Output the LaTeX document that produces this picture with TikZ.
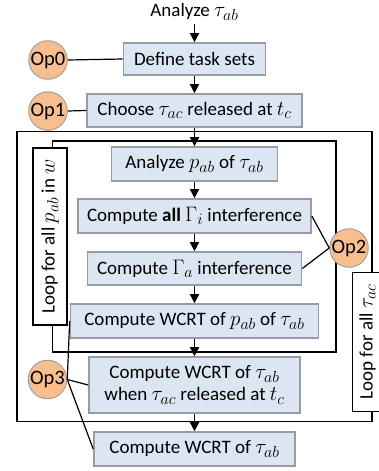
\RequirePackage{fix-cm}
\documentclass[tikz,border=0pt]{standalone}
\usepackage{amsmath,amssymb}
\usepackage{xcolor}
\usepackage{fontspec}
\setmainfont{Carlito}
\usetikzlibrary{arrows.meta}
\DeclareMathSizes{19}{21}{16}{12}

\definecolor{boxfill}{RGB}{220,230,242}
\definecolor{boxline}{RGB}{150,155,165}
\definecolor{opfill}{RGB}{248,190,142}
\definecolor{opline}{RGB}{160,160,160}

\begin{document}
\begin{tikzpicture}[x=1pt,y=1pt,yscale=-1,xscale=1,
  font=\fontsize{19}{22}\selectfont,
  stepbox/.style={draw=boxline,fill=boxfill,line width=1.6pt,inner sep=0pt,align=center,minimum height=34},
  loopbox/.style={draw=black,line width=1.4pt,inner sep=0pt,minimum width=0,minimum height=0},
  looplabel/.style={draw=black,fill=white,line width=1.2pt,inner sep=0pt,rotate=90,minimum height=34},
  opnode/.style={circle,draw=opline,fill=opfill,line width=1pt,inner sep=0pt,minimum size=35,font=\fontsize{20.5}{22}\selectfont},
  flow/.style={line width=1.5pt,-{Triangle[width=9pt,length=9pt]}},
  opwire/.style={line width=1.2pt}]

\clip (0,0) rectangle (379,471);

% loops
\node [loopbox,minimum width=355,minimum height=290] (outer) at (194.5,276.5) {};
\node [loopbox,minimum width=283.5,minimum height=211] (inner) at (194.25,246.5) {};
\node [looplabel,minimum width=177] (loopw) at (50,236.5) {Loop for all $p_{ab}$ in $w$};
\node [looplabel,minimum width=139,minimum height=30] (looptc) at (367.5,342) {Loop for all $\tau_{ac}$};

% steps
\node [inner sep=3pt] (title) at (194.5,12) {Analyze $\tau_{ab}$};
\node [stepbox,minimum width=142,minimum height=32] (define) at (194.5,59) {Define task sets};
\node [stepbox,minimum width=215,minimum height=33] (choose) at (194.5,110.5) {Choose $\tau_{ac}$ released at $t_{c}$};
\node [stepbox,minimum width=166] (analyze) at (194.5,164) {Analyze $p_{ab}$ of $\tau_{ab}$};
\node [stepbox,minimum width=233] (all) at (194.5,216) {Compute \textbf{all} $\Gamma_{i}$ interference};
\node [stepbox,minimum width=214,minimum height=33] (gam) at (194.5,268.5) {Compute $\Gamma_{a}$ interference};
\node [stepbox,minimum width=248] (wcrtp) at (194.5,321) {Compute WCRT of $p_{ab}$ of $\tau_{ab}$};
\node [stepbox,minimum width=211,minimum height=56] (when) at (194.5,385) {Compute WCRT of $\tau_{ab}$\\when $\tau_{ac}$ released at $t_{c}$};
\node [stepbox,minimum width=201] (final) at (194.5,449) {Compute WCRT of $\tau_{ab}$};

\draw [flow] (title) -- (define);
\draw [flow] (define) -- (choose);
\draw [flow] (choose) -- (analyze);
\draw [flow] (analyze) -- (all);
\draw [flow] (all) -- (gam);
\draw [flow] (gam) -- (wcrtp);
\draw [flow] (wcrtp) -- (when);
\draw [flow] (when) -- (final);

% operations
\node [opnode] (op0) at (48,60) {Op0};
\node [opnode] (op1) at (48,111) {Op1};
\node [opnode] (op2) at (349,248) {Op2};
\node [opnode] (op3) at (47.5,379.5) {Op3};

\draw [opwire] (op0.east) -- (define.west);
\draw [opwire] (op1.east) -- (choose.west);
\draw [opwire] (op2.west) -- (all.east);
\draw [opwire] (op2.west) -- (gam.east);
\draw [opwire] (op3.east) -- (wcrtp.west);
\draw [opwire] (op3.east) -- (when.west);
\draw [opwire] (op3.east) -- (final.west);
\end{tikzpicture}
\end{document}
